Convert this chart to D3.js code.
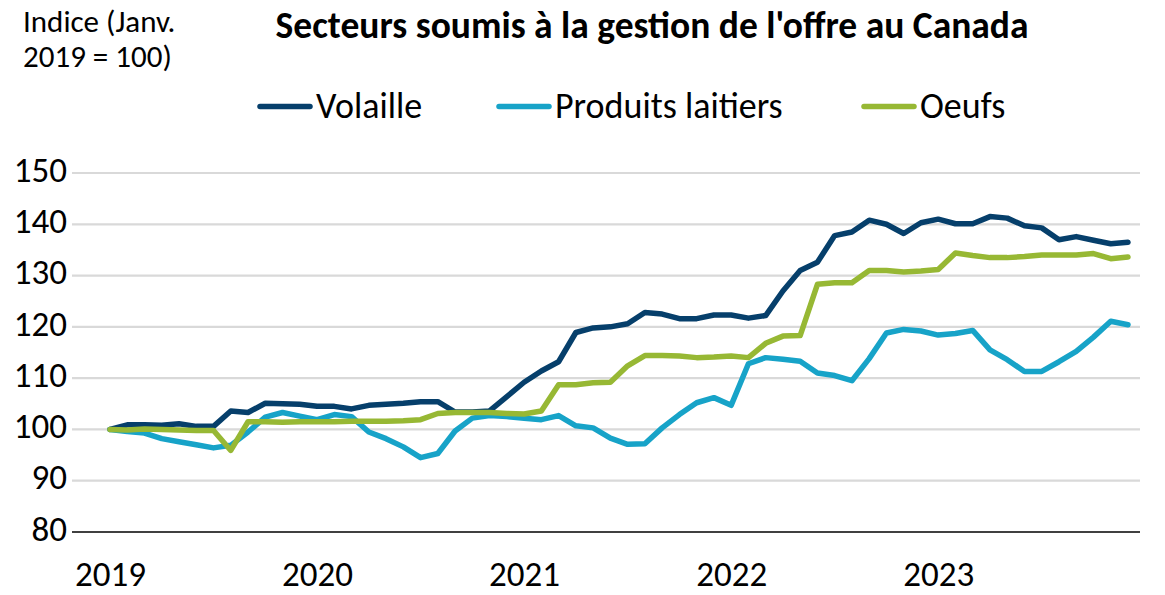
<!DOCTYPE html>
<html>
<head>
<meta charset="utf-8">
<script src="https://cdn.jsdelivr.net/npm/d3@7"></script>
<style>
  html, body { margin: 0; padding: 0; background: #ffffff; }
  svg { display: block; }
  text { font-family: Carlito, "Liberation Sans Narrow", "Open Sans", "Liberation Sans", sans-serif; fill: #000; }
</style>
</head>
<body>
<svg id="chart" width="1165" height="595"></svg>
<script>
// ---- Data (monthly, Jan 2019 – Dec 2023) ----
const yearLabels = ["2019", "2020", "2021", "2022", "2023"];
const yTicks = [80, 90, 100, 110, 120, 130, 140, 150];
const seriesNames = ["Volaille", "Produits laitiers", "Oeufs"];
const seriesColors = ["#063f6b", "#17a3c8", "#97b834"];

const volaille = [
  100.0, 100.9, 100.9, 100.8, 101.1, 100.6, 100.6, 103.6, 103.3, 105.1, 105.0, 104.9,
  104.5, 104.5, 104.0, 104.7, 104.9, 105.1, 105.4, 105.4, 103.4, 103.4, 103.6, 106.4,
  109.2, 111.4, 113.2, 118.9, 119.8, 120.0, 120.6, 122.8, 122.5, 121.6, 121.6, 122.3,
  122.3, 121.7, 122.2, 127.0, 131.0, 132.6, 137.8, 138.5, 140.8, 140.0, 138.2, 140.3,
  141.0, 140.1, 140.1, 141.5, 141.2, 139.7, 139.3, 137.0, 137.6, 136.9, 136.2, 136.5
];
const produitsLaitiers = [
  100.0, 99.6, 99.3, 98.2, 97.6, 97.0, 96.4, 96.9, 99.5, 102.4, 103.3, 102.6,
  101.9, 102.9, 102.5, 99.5, 98.2, 96.6, 94.5, 95.3, 99.7, 102.2, 102.7, 102.5,
  102.2, 101.9, 102.7, 100.7, 100.3, 98.3, 97.1, 97.2, 100.3, 102.9, 105.2, 106.2,
  104.7, 112.8, 114.0, 113.7, 113.3, 111.0, 110.5, 109.5, 113.8, 118.8, 119.5, 119.2,
  118.4, 118.7, 119.3, 115.5, 113.6, 111.3, 111.3, 113.2, 115.2, 118.0, 121.1, 120.4
];
const oeufs = [
  100.0, 99.9, 100.1, 100.0, 99.9, 99.8, 99.8, 95.9, 101.5, 101.5, 101.4, 101.5,
  101.5, 101.5, 101.6, 101.6, 101.6, 101.7, 101.9, 103.1, 103.3, 103.3, 103.3, 103.1,
  103.0, 103.6, 108.7, 108.7, 109.1, 109.2, 112.4, 114.4, 114.4, 114.3, 114.0, 114.1,
  114.3, 114.0, 116.8, 118.2, 118.3, 128.3, 128.6, 128.6, 131.0, 131.0, 130.7, 130.9,
  131.2, 134.4, 133.9, 133.5, 133.5, 133.7, 134.0, 134.0, 134.0, 134.3, 133.3, 133.6
];
const allSeries = [volaille, produitsLaitiers, oeufs];

// ---- Layout ----
const svg = d3.select("#chart");
const plotLeft = 72, plotRight = 1140, plotTop = 173, plotBottom = 532;

const x = d3.scaleLinear().domain([0, 59]).range([110, 1128]);
const y = d3.scaleLinear().domain([80, 150]).range([plotBottom, plotTop]);

// gridlines
svg.append("g").selectAll("line")
  .data(yTicks.filter(t => t !== 80))
  .join("line")
  .attr("x1", plotLeft).attr("x2", plotRight)
  .attr("y1", d => y(d)).attr("y2", d => y(d))
  .attr("stroke", "#d9d9d9").attr("stroke-width", 2.2);

// x axis baseline
svg.append("line")
  .attr("x1", plotLeft).attr("x2", plotRight)
  .attr("y1", y(80)).attr("y2", y(80))
  .attr("stroke", "#000").attr("stroke-width", 1.6);

// y axis labels
const yAxis = d3.axisLeft(y).tickValues(yTicks).tickSize(0).tickPadding(0);
const gy = svg.append("g").attr("transform", `translate(67,-3)`).call(yAxis);
gy.select(".domain").remove();
gy.selectAll("text").attr("font-size", 35).style("font-family", null).attr("fill", "#000");

// x axis labels
const xAxis = d3.axisBottom(x).tickValues(yearLabels.map((d, i) => i * 12))
  .tickFormat(d => yearLabels[d / 12]).tickSize(0).tickPadding(0);
const gx = svg.append("g").attr("transform", `translate(0,586)`).call(xAxis);
gx.select(".domain").remove();
gx.selectAll("text").attr("font-size", 35).attr("dy", 0).style("font-family", null).attr("fill", "#000");

// lines
const lineGen = d3.line().x((d, i) => x(i)).y(d => y(d));
svg.append("g").selectAll("path")
  .data(allSeries)
  .join("path")
  .attr("d", d => lineGen(d))
  .attr("fill", "none")
  .attr("stroke", (d, i) => seriesColors[i])
  .attr("stroke-width", 5.5)
  .attr("stroke-linejoin", "round")
  .attr("stroke-linecap", "round");

// title
svg.append("text")
  .attr("x", 652).attr("y", 38)
  .attr("text-anchor", "middle")
  .attr("font-size", 37.5).attr("font-weight", "bold")
  .text("Secteurs soumis à la gestion de l'offre au Canada");

// y-axis title (two lines)
svg.append("text").attr("x", 23).attr("y", 32).attr("font-size", 31).text("Indice (Janv.");
svg.append("text").attr("x", 23).attr("y", 67).attr("font-size", 31).text("2019 = 100)");

// legend
const legendX = [258, 497, 862];
const lg = svg.append("g").selectAll("g")
  .data(seriesNames)
  .join("g")
  .attr("transform", (d, i) => `translate(${legendX[i]},106.5)`);
lg.append("line")
  .attr("x1", 2).attr("x2", 52).attr("y1", 0).attr("y2", 0)
  .attr("stroke", (d, i) => seriesColors[i]).attr("stroke-width", 5.5)
  .attr("stroke-linecap", "round");
lg.append("text")
  .attr("x", 58).attr("y", 11)
  .attr("font-size", 36)
  .text(d => d);
</script>
</body>
</html>
